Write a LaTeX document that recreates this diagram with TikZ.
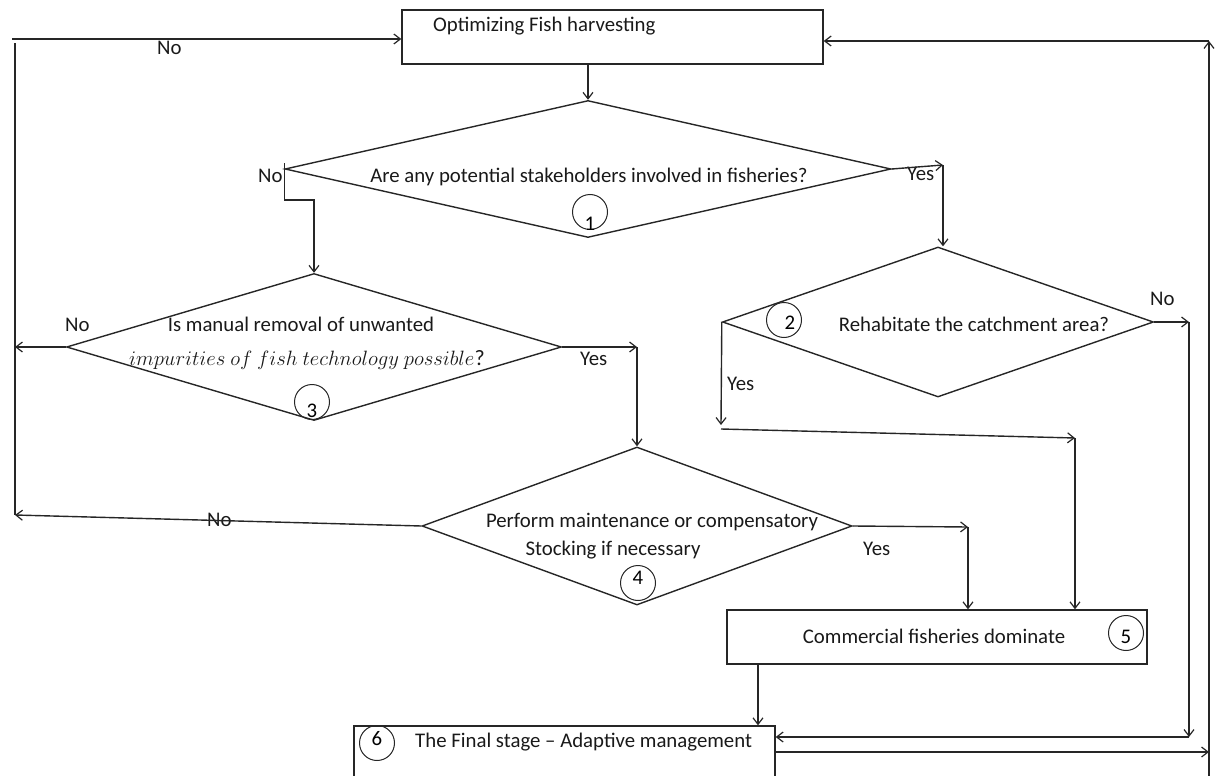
\documentclass[tikz,border=0pt]{standalone}
\usepackage{fontspec}
\setmainfont{Carlito}
\usetikzlibrary{arrows.meta,shapes.geometric,calc}
\newcommand{\cnum}[2]{\raisebox{#1}[0pt][0pt]{#2}}
\tikzset{
  ln/.style={line width=1.4pt, draw=black!85},
  arr/.style={ln, -{Straight Barb[length=6.5pt,width=10pt,line width=1.2pt]}},
  box/.style={draw=black!85, line width=1.4pt, rectangle, inner sep=0pt},
  dia/.style={diamond, draw=black!85, line width=1.4pt, inner sep=0pt},
  circ/.style={circle, draw=black!85, line width=1pt, minimum size=35pt, inner sep=0pt},
  txt/.style={inner sep=0pt, text=black!90},
  every node/.append style={font=\fontsize{20.8}{25}\selectfont}
}
\begin{document}
\begin{tikzpicture}[x=1pt,y=-1pt]
\useasboundingbox (0,0) rectangle (1219,776);
\clip (0,0) rectangle (1219,776);
% boxes
\node[box, minimum width=421pt, minimum height=54pt] (b1) at (612.5,37) {};
\node[box, minimum width=420pt, minimum height=54pt] (b5) at (937,637) {};
\node[box, minimum width=421pt, minimum height=54pt] (b6) at (564.5,753) {};
% diamonds
\node[dia, minimum width=606pt, minimum height=137pt] (d1) at (588,169) {};
\node[dia, minimum width=431pt, minimum height=150pt] (d2) at (938,322) {};
\node[dia, minimum width=495pt, minimum height=147pt] (d3) at (314,347) {};
\node[dia, minimum width=430pt, minimum height=158pt] (d4) at (637,526) {};
% texts
\node[txt, anchor=base west] (t1) at (433,32) {Optimizing Fish harvesting};
\node[txt, anchor=base] (t2) at (589,182) {Are any potential stakeholders involved in fisheries?};
\node[txt, anchor=base] (t3) at (974,331) {Rehabitate the catchment area?};
\node[txt, anchor=base] (t4a) at (301,331) {Is manual removal of unwanted};
\node[txt, anchor=base, font=\fontsize{22}{26}\selectfont] (t4b) at (307,365) {$impurities\ of\ fish\ technology\ possible$?};
\node[txt, anchor=base] (t5a) at (652,527) {Perform maintenance or compensatory};
\node[txt, anchor=base] (t5b) at (613,555) {Stocking if necessary};
\node[txt, anchor=base] (t6) at (934,643) {Commercial fisheries dominate};
\node[txt, anchor=base west] (t7) at (415,747) {The Final stage -- Adaptive management};
% numbered circles
\node[circ] (c1) at (590,212) {\cnum{-18.5pt}{1}};
\node[circ] (c2) at (784,320) {\hspace*{12pt}\cnum{-9.5pt}{2}};
\node[circ] (c3) at (312,402) {\cnum{-15.5pt}{3}};
\node[circ] (c4) at (638,583) {\cnum{-1.5pt}{4}};
\node[circ] (c5) at (1126,633) {\cnum{-10.5pt}{5}};
\node[circ] (c6) at (377,743) {\cnum{-2.5pt}{6}};
% labels
\node[txt, anchor=base west] (l1) at (157,55) {No};
\node[txt, anchor=base west] (l2) at (258,182) {No};
\node[txt, anchor=base west] (l3) at (907,180) {Yes};
\node[txt, anchor=base west] (l4) at (65,331) {No};
\node[txt, anchor=base west] (l5) at (580,365) {Yes};
\node[txt, anchor=base west] (l6) at (1150,305) {No};
\node[txt, anchor=base west] (l7) at (727,390) {Yes};
\node[txt, anchor=base west] (l8) at (207,526) {No};
\node[txt, anchor=base west] (l9) at (863,555) {Yes};
% coordinates
\coordinate (cL1) at (15,515);
\coordinate (cL2) at (15,39);
\coordinate (cY1) at (943,165);
\coordinate (cN2) at (1189,322);
\coordinate (cN2b) at (1189,737);
\coordinate (cY2) at (721,425);
\coordinate (cY2a) at (721,429);
\coordinate (cY2b) at (1075,438);
\coordinate (cY3) at (637,347);
\coordinate (cY4) at (968,527);
\coordinate (cR1) at (1209,752);
\coordinate (cR0) at (1209,776);
\coordinate (cR2) at (1209,41);
% connectors
\draw[arr] (d1.north |- b1.south) -- (d1.north);
\draw[arr] (d1.west) ++(0,-6) -- ++(0,37) -| (d3.north);
\draw[arr] (d1.east) -- (cY1);
\draw[arr] (cY1) -- (cY1 |- d2.north);
\draw[arr] (d2.east) -- (cN2);
\draw[arr] (cN2) -- (cN2b);
\draw[arr] (cN2b) -- (b6.east |- cN2b);
\draw[arr] (d2.west) -- (cY2);
\draw[arr] (cY2a) -- (cY2b);
\draw[arr] (cY2b) -- (cY2b |- b5.north);
\draw[arr] (d3.west) -- (d3.west -| cL1);
\draw[arr] (d3.east) -- (cY3);
\draw[arr] (cY3) -- (d4.north);
\draw[arr] (d4.west) -- (cL1);
\draw[ln] (cL1) -- (15,43);
\draw[arr] (12,39) -- (b1.west |- cL2);
\draw[arr] (d4.east) -- (cY4);
\draw[arr] (cY4) -- (cY4 |- b5.north);
\draw[arr] (b5.south -| 758,0) -- (b6.north -| 758,0);
\draw[arr] (b6.east |- cR1) -- (cR1);
\draw[arr] (cR0) -- (cR2);
\draw[arr] (cR2) -- (b1.east |- cR2);
\end{tikzpicture}
\end{document}
